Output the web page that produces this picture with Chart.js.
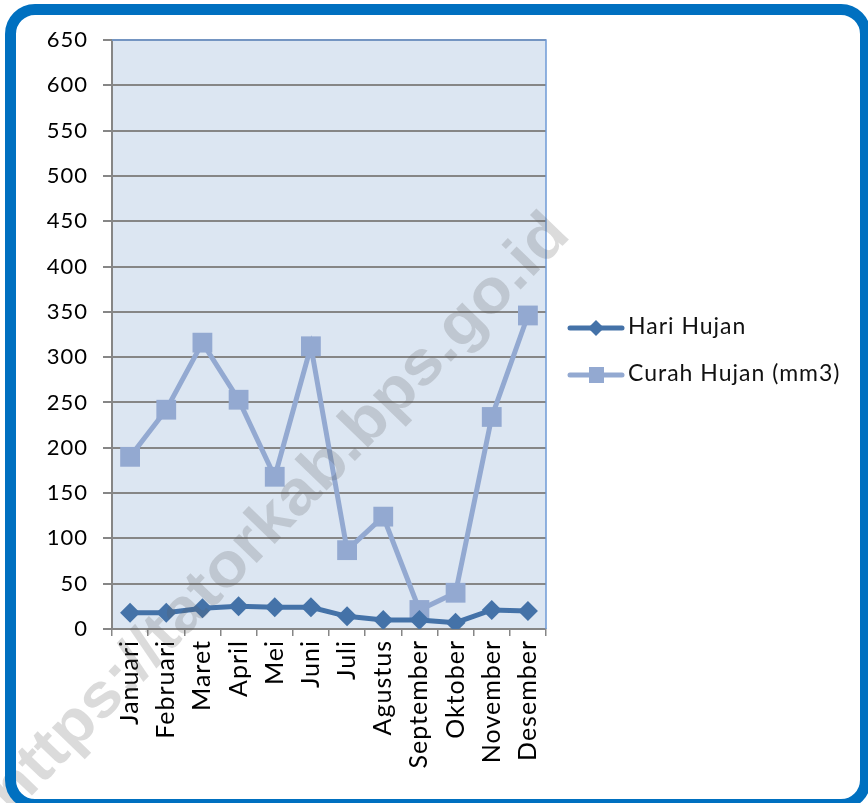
<!DOCTYPE html>
<html>
<head>
<meta charset="utf-8">
<script src="https://cdn.jsdelivr.net/npm/chart.js@4"></script>
<style>
    html, body { margin: 0; padding: 0; background: #fff; overflow: hidden; }
    #wrap { position: relative; width: 868px; height: 803px; }
    #frame {
        position: absolute; left: 5px; top: 4px; width: 866px; height: 806px;
        box-sizing: border-box; border: 11px solid #0070c0; border-radius: 30px;
        pointer-events: none;
    }
    canvas { position: absolute; left: 0; top: 0; }
</style>
</head>
<body>
<div id="wrap">
    <canvas id="rainChart" width="868" height="803"></canvas>
    <div id="frame"></div>
</div>
<script>
const months = ['Januari', 'Februari', 'Maret', 'April', 'Mei', 'Juni', 'Juli',
    'Agustus', 'September', 'Oktober', 'November', 'Desember'];
const hariHujan = [18, 18, 23, 25, 24, 24, 14, 10, 10, 7, 21, 20];
const curahHujan = [190, 242, 316, 253, 168, 312, 87, 124, 21, 40, 234, 346];
const yTicks = [0, 50, 100, 150, 200, 250, 300, 350, 400, 450, 500, 550, 600, 650];

const FONT = "Lato, 'Open Sans', sans-serif";

// plot background + top/right border
const plotFrame = {
    id: 'plotFrame',
    beforeDraw(chart) {
        const { ctx, chartArea: a } = chart;
        // a bit wider text spacing, closer to the original office rendering
        ctx.letterSpacing = '1px';
        ctx.save();
        ctx.fillStyle = '#dce6f2';
        ctx.fillRect(a.left, a.top, a.right - a.left, a.bottom - a.top);
        ctx.restore();
    },
    afterDatasetsDraw(chart) {
        const { ctx, chartArea: a } = chart;
        ctx.save();
        ctx.strokeStyle = '#6f9ad6';
        ctx.lineWidth = 1.5;
        ctx.beginPath();
        ctx.moveTo(a.left, a.top);
        ctx.lineTo(a.right, a.top);
        ctx.lineTo(a.right, a.bottom);
        ctx.stroke();
        ctx.restore();
    }
};

// legend with line + marker, drawn to the right of the plot
const sideLegend = {
    id: 'sideLegend',
    afterDraw(chart) {
        const { ctx } = chart;
        const rows = [328, 375];
        ctx.save();
        chart.data.datasets.forEach((ds, i) => {
            const y = rows[i];
            ctx.strokeStyle = ds.borderColor;
            ctx.lineWidth = 5;
            ctx.lineCap = 'round';
            ctx.beginPath();
            ctx.moveTo(570, y);
            ctx.lineTo(622, y);
            ctx.stroke();
            ctx.fillStyle = ds.backgroundColor;
            ctx.beginPath();
            if (ds.pointStyle === 'rectRot') {
                ctx.moveTo(596, y - 8);
                ctx.lineTo(604, y);
                ctx.lineTo(596, y + 8);
                ctx.lineTo(588, y);
            } else {
                ctx.rect(589, y - 8, 15, 16);
            }
            ctx.closePath();
            ctx.fill();
            ctx.fillStyle = '#111';
            ctx.font = '23px ' + FONT;
            ctx.textBaseline = 'middle';
            ctx.textAlign = 'left';
            ctx.fillText(ds.label, 628, y - 1);
        });
        ctx.restore();
    }
};

// diagonal watermark
const watermark = {
    id: 'watermark',
    afterDraw(chart) {
        const { ctx } = chart;
        const text = 'https://tatorkab.bps.go.id';
        ctx.save();
        ctx.letterSpacing = '0px';
        ctx.translate(280, 514);
        ctx.rotate(-46 * Math.PI / 180);
        ctx.font = "bold 62px 'Liberation Sans', Arial, sans-serif";
        const w = ctx.measureText(text).width;
        ctx.scale(805 / w, 1);
        ctx.fillStyle = 'rgba(90, 90, 90, 0.22)';
        ctx.textAlign = 'center';
        ctx.textBaseline = 'middle';
        ctx.fillText(text, 0, 0);
        ctx.restore();
    }
};

new Chart(document.getElementById('rainChart').getContext('2d'), {
    type: 'line',
    data: {
        labels: months,
        datasets: [{
            label: 'Hari Hujan',
            data: hariHujan,
            borderColor: '#4472a8',
            backgroundColor: '#4472a8',
            borderWidth: 5,
            pointStyle: 'rectRot',
            pointRadius: 10,
            pointHoverRadius: 10,
            pointBorderWidth: 0,
            tension: 0
        }, {
            label: 'Curah Hujan (mm3)',
            data: curahHujan,
            borderColor: '#93a9d1',
            backgroundColor: '#93a9d1',
            borderWidth: 5,
            pointStyle: 'rect',
            pointRadius: 14,
            pointHoverRadius: 14,
            pointBorderWidth: 0,
            tension: 0
        }]
    },
    options: {
        responsive: false,
        animation: false,
        layout: {
            padding: { left: 0, top: 40, right: 322, bottom: 0 }
        },
        plugins: {
            legend: { display: false },
            tooltip: { enabled: false }
        },
        scales: {
            x: {
                offset: true,
                afterFit: s => { s.height = 174; },
                grid: {
                    offset: true,
                    drawOnChartArea: false,
                    drawTicks: true,
                    tickLength: 7,
                    color: '#868686',
                    lineWidth: 1.5
                },
                border: { color: '#868686', width: 2 },
                ticks: {
                    minRotation: 90,
                    maxRotation: 90,
                    autoSkip: false,
                    padding: 4,
                    color: '#000',
                    font: { family: FONT, size: 25 }
                }
            },
            y: {
                min: 0,
                max: 650,
                afterFit: s => { s.width = 112; },
                afterBuildTicks: s => { s.ticks = yTicks.map(v => ({ value: v })); },
                grid: {
                    color: '#868686',
                    lineWidth: 2,
                    tickLength: 9
                },
                border: { color: '#868686', width: 2 },
                ticks: {
                    padding: 15,
                    color: '#000',
                    font: { family: FONT, size: 22 }
                }
            }
        }
    },
    plugins: [plotFrame, sideLegend, watermark]
});
</script>
</body>
</html>
